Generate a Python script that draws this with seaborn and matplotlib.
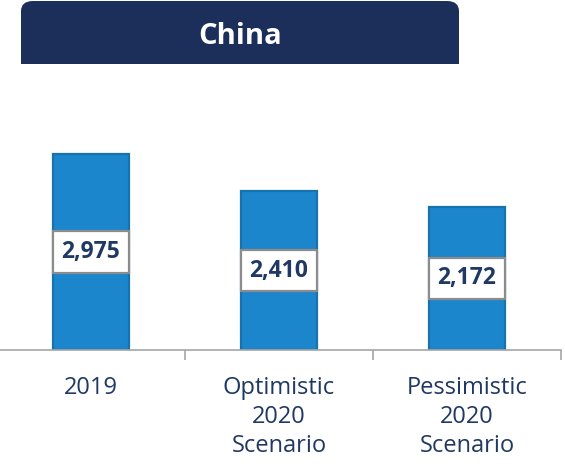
import matplotlib
matplotlib.use("Agg")
import matplotlib.pyplot as plt
from matplotlib.patches import FancyBboxPatch, Rectangle
import seaborn as sns
import pandas as pd

categories = ["2019", "Optimistic\n2020\nScenario", "Pessimistic\n2020\nScenario"]
values = [2975, 2410, 2172]
value_labels = ["2,975", "2,410", "2,172"]
title = "China"

sns.set_theme(style="white")
plt.rcParams["font.family"] = ["Open Sans", "DejaVu Sans"]

W, H = 565, 465
fig = plt.figure(figsize=(W / 100, H / 100), dpi=100)

# axes placement (pixel based)
left_px, right_px, base_px, top_px = -3, 561, 350, 100
ax = fig.add_axes([left_px / W, (H - base_px) / H, (right_px - left_px) / W, (base_px - top_px) / H])

df = pd.DataFrame({"cat": categories, "val": values})
sns.barplot(data=df, x="cat", y="val", ax=ax, width=0.4, color="#1C86CC",
            edgecolor="#1872B0", linewidth=1.6, saturation=1)

ax.set_xlim(-0.5, 2.5)
ax.set_ylim(0, 3794)
ax.set_xlabel("")
ax.set_ylabel("")
ax.set_yticks([])
for s in ["top", "right", "left"]:
    ax.spines[s].set_visible(False)
ax.spines["bottom"].set_color("#A6A6A6")
ax.spines["bottom"].set_linewidth(1.2)

ax.set_xticks([0, 1, 2])
ax.set_xticklabels(categories, fontsize=17, color="#1F3864", linespacing=1.28)
ax.tick_params(axis="x", which="major", length=0, pad=19)
ax.set_xticks([-0.5, 0.5, 1.5, 2.5], minor=True)
ax.tick_params(axis="x", which="minor", length=7, width=1.2, color="#A6A6A6", direction="out", bottom=True)

for i, (v, lab) in enumerate(zip(values, value_labels)):
    ax.text(i, v / 2, lab, ha="center", va="center", fontsize=16.5, fontweight="bold",
            color="#1F3864",
            bbox=dict(boxstyle="square,pad=0.38", facecolor="white", edgecolor="#8C8C8C", linewidth=1.6))

# title box with rounded top corners
x0, x1, y0, y1 = 21 / W, 459 / W, (H - 64) / H, (H - 1) / H
r = 10
fig.patches.append(FancyBboxPatch((x0, y0), x1 - x0, y1 - y0,
                                  boxstyle=f"round,pad=0,rounding_size={r / H}",
                                  transform=fig.transFigure, facecolor="#1B2F5A", edgecolor="none",
                                  mutation_aspect=1, zorder=1))
fig.patches.append(Rectangle((x0, y0), x1 - x0, (y1 - y0) / 2, transform=fig.transFigure,
                             facecolor="#1B2F5A", edgecolor="none", zorder=1))
fig.text(240 / W, (H - 36) / H, title, ha="center", va="center", fontsize=21,
         fontweight="bold", color="white", zorder=3)

fig.savefig("out.png", dpi=100, facecolor="white")
